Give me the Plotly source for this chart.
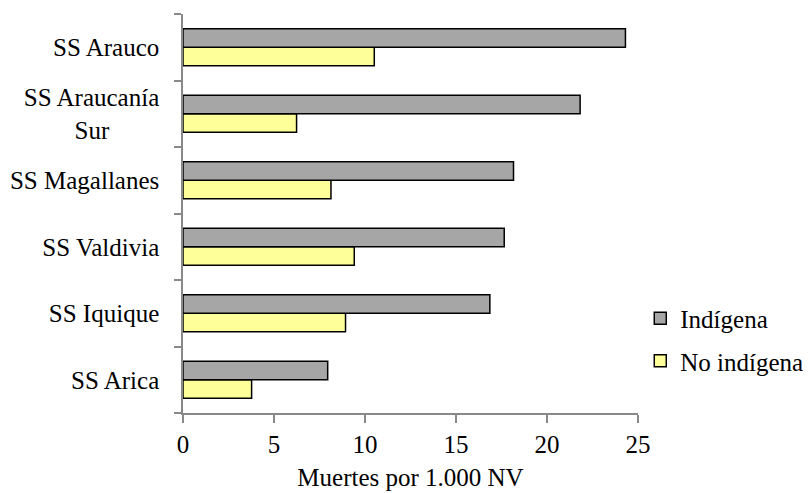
import plotly.graph_objects as go

categories = ["SS Arica", "SS Iquique", "SS Valdivia", "SS Magallanes",
              "SS Araucanía<br>Sur" + "\u00a0" * 8, "SS Arauco"]
indigena = [7.95, 16.86, 17.65, 18.16, 21.82, 24.31]
no_indigena = [3.77, 8.93, 9.41, 8.13, 6.24, 10.51]
x_ticks = [0, 5, 10, 15, 20, 25]

FONT = "Liberation Serif"
OFF = 8  # page body margin offset

fig = go.Figure()
fig.add_trace(go.Bar(
    y=categories, x=no_indigena, orientation="h", name="No indígena",
    legendgroup="b", legendrank=2,
    marker=dict(color="#FFFF99", line=dict(color="#000000", width=1.5)),
))
fig.add_trace(go.Bar(
    y=categories, x=indigena, orientation="h", name="Indígena",
    legendgroup="a", legendrank=1,
    marker=dict(color="#A6A6A6", line=dict(color="#000000", width=1.5)),
))

fig.update_layout(
    template="none",
    width=811, height=493,
    margin=dict(l=183 - OFF, r=811 - 638 + OFF, t=14 - OFF, b=493 - 413 + OFF),
    paper_bgcolor="white", plot_bgcolor="white",
    barmode="group", bargap=0.444, bargroupgap=0,
    font=dict(family=FONT, size=25, color="#000000"),
    legend=dict(traceorder="grouped", tracegroupgap=7,
                x=1.005, xanchor="left", y=0.184, yanchor="middle",
                font=dict(size=25), bgcolor="rgba(0,0,0,0)"),
    xaxis=dict(range=[0, 25], tickvals=x_ticks, showgrid=False, zeroline=False,
               automargin=True,
               showline=True, linecolor="#898989", linewidth=1.5,
               ticks="outside", ticklen=8, tickcolor="#898989", tickwidth=1.5,
               title=dict(text="Muertes por 1.000 NV", font=dict(size=25), standoff=12)),
    yaxis=dict(type="category", categoryorder="array", categoryarray=categories,
               automargin=False,
               showgrid=False, zeroline=False, showline=True, linecolor="#898989",
               linewidth=1.5, ticks="outside", ticklen=7, tickcolor="#898989",
               tickwidth=1.5, tickson="boundaries", ticklabelstandoff=17),
)

fig.write_html("out.html")
